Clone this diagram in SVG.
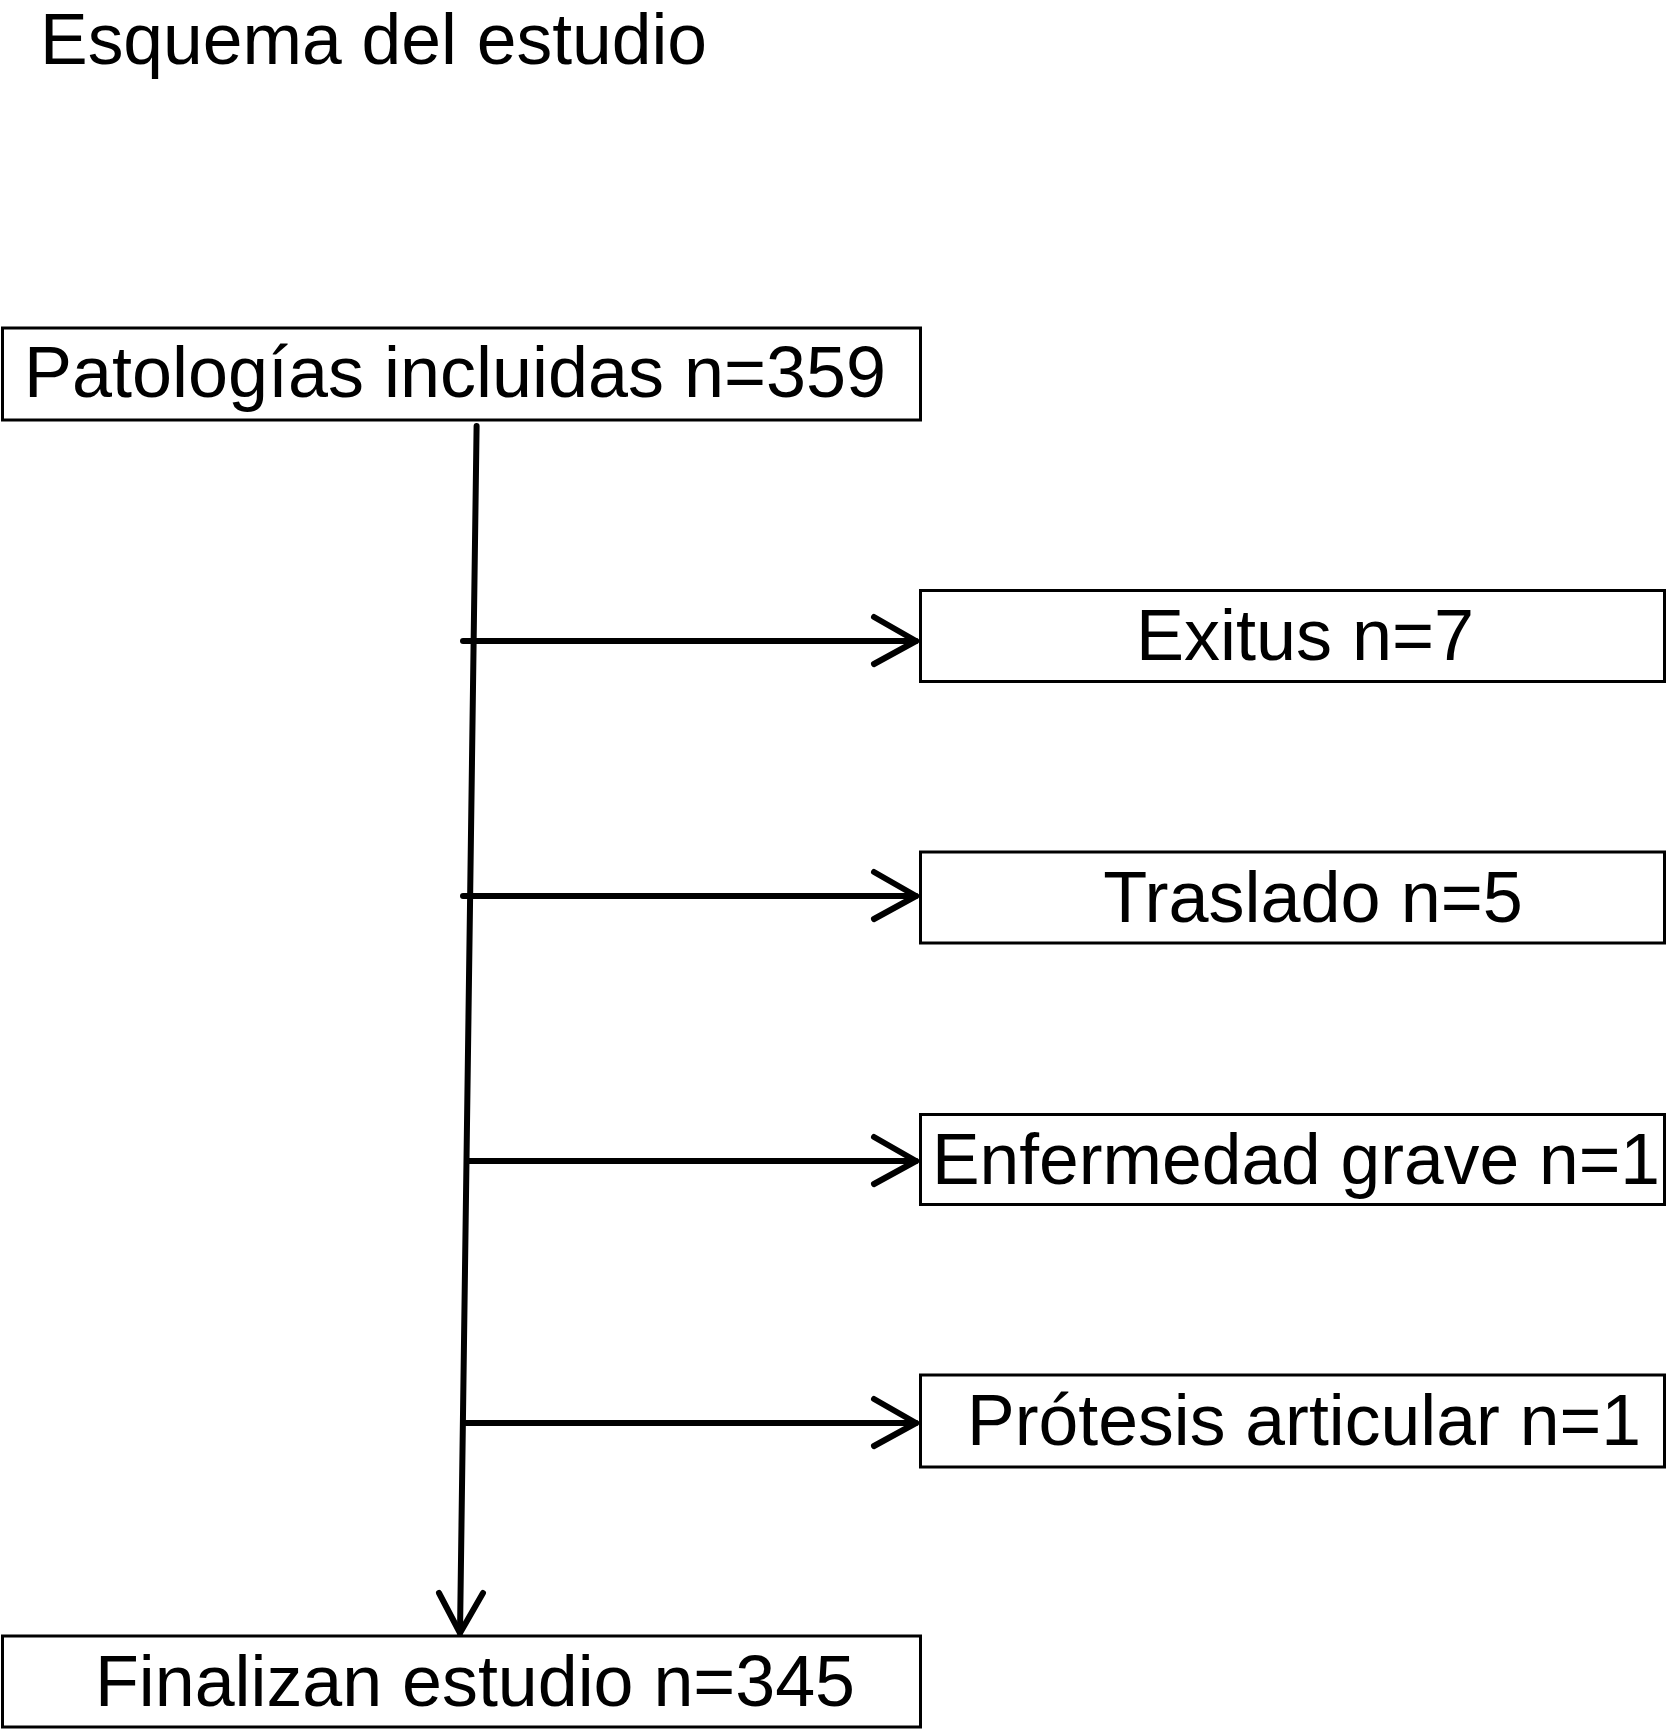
<svg xmlns="http://www.w3.org/2000/svg" width="1667" height="1730" viewBox="0 0 1667 1730">
<style>
.box{fill:#fff;stroke:#000;stroke-width:3}
.t{font-family:"Liberation Sans",Arial,Helvetica,sans-serif;font-size:72px;fill:#000}
.ln{fill:none;stroke:#000;stroke-width:6;stroke-linecap:round;stroke-linejoin:round}
</style>
<rect width="1667" height="1730" fill="#fff"/>
<text class="t" x="40" y="64" textLength="667" lengthAdjust="spacingAndGlyphs">Esquema del estudio</text>
<g id="connectors">
<path class="ln" d="M476.6 426 L460 1633"/>
<path class="ln" d="M439 1593 L460 1633 L483 1593"/>
<path class="ln" d="M463 641 L916 641"/>
<path class="ln" d="M874 617 L916 641 L874 664"/>
<path class="ln" d="M463 896 L916 896"/>
<path class="ln" d="M874 872 L916 896 L874 919"/>
<path class="ln" d="M469 1161 L916 1161"/>
<path class="ln" d="M874 1137 L916 1161 L874 1184"/>
<path class="ln" d="M466 1423 L916 1423"/>
<path class="ln" d="M874 1399 L916 1423 L874 1446"/>
</g>
<g id="n_patologias">
<rect class="box" x="2.5" y="328" width="918" height="92"/>
<text class="t" x="24" y="397" textLength="862" lengthAdjust="spacingAndGlyphs">Patologías incluidas n=359</text>
</g>
<g id="n_exitus">
<rect class="box" x="920.5" y="590.5" width="744" height="91"/>
<text class="t" x="1305" y="660" text-anchor="middle">Exitus n=7</text>
</g>
<g id="n_traslado">
<rect class="box" x="920.5" y="852" width="744" height="91"/>
<text class="t" x="1313" y="922" text-anchor="middle">Traslado n=5</text>
</g>
<g id="n_enfermedad">
<rect class="box" x="920.5" y="1114.5" width="744" height="90"/>
<text class="t" x="932" y="1184" textLength="728" lengthAdjust="spacingAndGlyphs">Enfermedad grave n=1</text>
</g>
<g id="n_protesis">
<rect class="box" x="920.5" y="1375" width="744" height="92"/>
<text class="t" x="967" y="1445" textLength="674" lengthAdjust="spacingAndGlyphs">Prótesis articular n=1</text>
</g>
<g id="n_finalizan">
<rect class="box" x="2.5" y="1636" width="918" height="91"/>
<text class="t" x="95" y="1706" textLength="760" lengthAdjust="spacingAndGlyphs">Finalizan estudio n=345</text>
</g>
</svg>
